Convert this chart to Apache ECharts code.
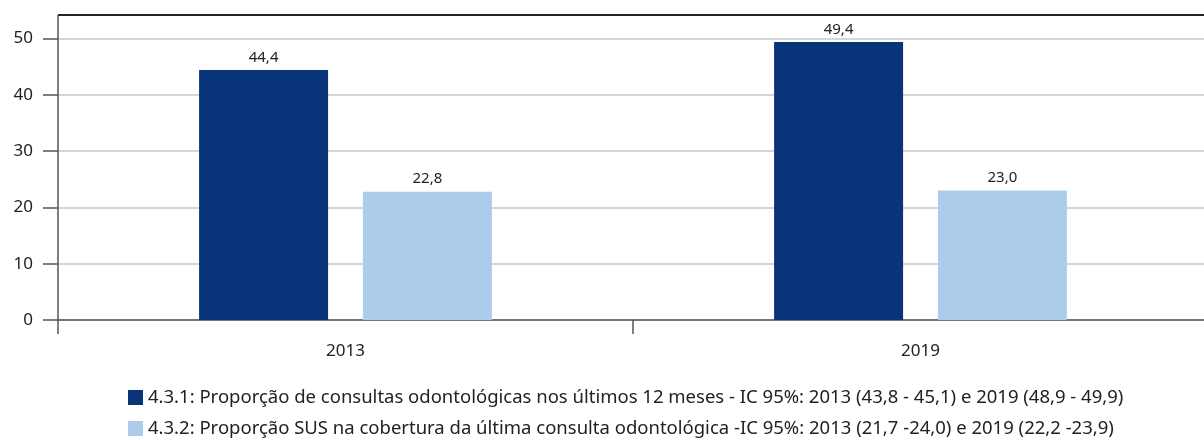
<!DOCTYPE html>
<html>
<head>
<meta charset="utf-8">
<script src="https://cdn.jsdelivr.net/npm/echarts@6/dist/echarts.min.js"></script>
<style>
  html, body { margin: 0; padding: 0; background: #fff; }
  #chart { width: 1204px; height: 440px; }
</style>
</head>
<body>
<div id="chart"></div>
<script>
const years = ["2013", "2019"];
const consultas = [44.4, 49.4];
const coberturaSus = [22.8, 23.0];
const yTicks = [0, 10, 20, 30, 40, 50];
const seriesNames = [
  "4.3.1: Proporção de consultas odontológicas nos últimos 12 meses - IC 95%: 2013 (43,8 - 45,1) e 2019 (48,9 - 49,9)",
  "4.3.2: Proporção SUS na cobertura da última consulta odontológica -IC 95%: 2013 (21,7 -24,0) e 2019 (22,2 -23,9)"
];

const font = "'Noto Sans', sans-serif";
const chart = echarts.init(document.getElementById("chart"));

const fmt = (v) => v.toFixed(1).replace(".", ",");

let option = {
  animation: false,
  textStyle: { fontFamily: font },
  grid: { left: 58, width: 1150, top: 38.5, bottom: 120, containLabel: false, outerBoundsMode: "none" },
  legend: {
    orient: "vertical",
    left: 128,
    top: 388,
    height: 70,
    padding: 0,
    itemWidth: 15,
    itemHeight: 15,
    itemGap: 12,
    icon: "rect",
    textStyle: { fontSize: 18.5, color: "#222", fontFamily: font },
    data: seriesNames
  },
  xAxis: {
    type: "category",
    data: years,
    axisLine: { lineStyle: { color: "#555", width: 1.5 } },
    axisTick: { show: true, length: 14, lineStyle: { color: "#555", width: 1.5 } },
    axisLabel: { fontSize: 17, color: "#222", margin: 23 }
  },
  yAxis: {
    type: "value",
    min: yTicks[0],
    max: yTicks[yTicks.length - 1],
    interval: 10,
    axisLine: { show: true, lineStyle: { color: "#555", width: 1.5 } },
    axisTick: { show: true, length: 15, lineStyle: { color: "#555", width: 1.5 } },
    axisLabel: { fontSize: 17, color: "#222", margin: 25 },
    splitLine: { lineStyle: { color: "#d6d6d6", width: 2 } }
  },
  series: [
    {
      name: seriesNames[0],
      type: "bar",
      data: consultas,
      barWidth: 129,
      barGap: "27%",
      itemStyle: { color: "#0a347a" },
      label: { show: true, position: "top", distance: 5, fontSize: 15, color: "#222", formatter: (p) => fmt(p.value) }
    },
    {
      name: seriesNames[1],
      type: "bar",
      data: coberturaSus,
      barWidth: 129,
      barGap: "27%",
      itemStyle: { color: "#abcdeb" },
      label: { show: true, position: "top", distance: 5, fontSize: 15, color: "#222", formatter: (p) => fmt(p.value) }
    }
  ],
  graphic: [
    // frame: top border and upper part of the left axis line
    { type: "line", shape: { x1: 58, y1: 15, x2: 1204, y2: 15 }, style: { stroke: "#222", lineWidth: 2 } },
    { type: "line", shape: { x1: 58, y1: 15, x2: 58, y2: 39 }, style: { stroke: "#555", lineWidth: 1.5 } }
  ]
};

chart.setOption(option);
</script>
</body>
</html>
